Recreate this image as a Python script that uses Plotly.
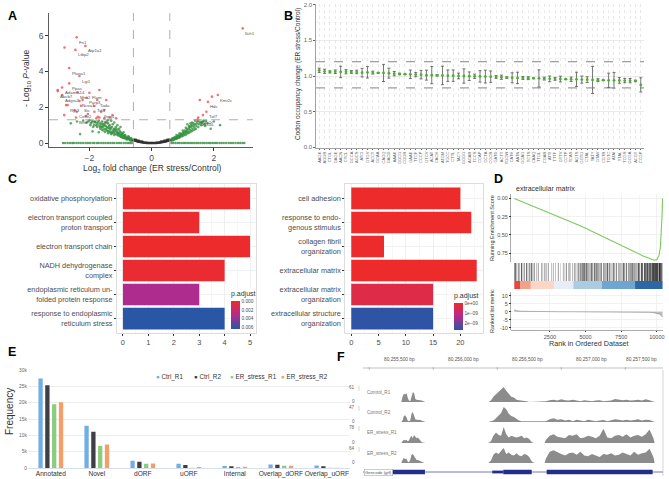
import plotly.graph_objects as go

W, H = 669, 479
FONT = "Liberation Sans, Arial, Helvetica, sans-serif"

# ================= Panel A : volcano =================
zero_x = [-2.85, -2.78, -2.7, -2.62, -2.55, -2.5, -2.42, -2.35, -2.28, -2.2, -2.12, -2.05, -1.98, -1.9,
          -1.84, -1.76, -1.7, -1.62, -1.55, -1.48, -1.4, -1.33, -1.26, -1.2, -1.12, -1.05, -0.98, -0.9,
          -0.83, -0.76, -0.7, -0.64, 0.64, 0.7, 0.77, 0.84, 0.9, 0.97, 1.04, 1.1, 1.17, 1.24, 1.3, 1.37,
          1.44, 1.5, 1.57, 1.64, 1.7, 1.77, 1.84, 1.9, 1.97, 2.04, 2.1, 2.18, 2.25, 2.32, 2.4, 2.48, 2.55,
          2.62, 2.7, 2.78, 2.85, 2.92, 2.98]
green_pts = [(-0.62, 0.18), (-0.65, 0.22), (-0.68, 0.15), (-0.7, 0.25), (-0.72, 0.2), (-0.75, 0.3), (-0.78, 0.22),
             (-0.8, 0.28), (-0.82, 0.35), (-0.85, 0.25), (-0.88, 0.32), (-0.9, 0.4), (-0.92, 0.3), (-0.95, 0.45),
             (-0.98, 0.35), (-1.0, 0.5), (-1.02, 0.38), (-1.05, 0.55), (-1.08, 0.42), (-1.1, 0.6), (-1.12, 0.48),
             (-1.15, 0.7), (-1.18, 0.52), (-1.2, 0.8), (-1.22, 0.58), (-1.25, 0.65), (-1.28, 0.9), (-1.3, 0.6),
             (-1.32, 0.75), (-1.35, 1.0), (-1.38, 0.68), (-1.4, 0.85), (-1.42, 1.1), (-1.45, 0.72), (-1.48, 0.95),
             (-1.5, 1.15), (-1.52, 0.8), (-1.55, 1.05), (-1.58, 0.88), (-1.6, 1.2), (-1.62, 0.92), (-1.65, 1.1),
             (-1.68, 0.98), (-1.7, 1.25), (-1.75, 1.05), (-1.8, 1.15), (-1.85, 1.0), (-1.9, 1.22), (-1.95, 1.1),
             (-2.0, 1.28), (-2.1, 1.15), (-2.2, 1.25), (-2.4, 1.2), (-2.6, 1.1), (-1.0, 0.62), (-1.1, 0.75),
             (-1.2, 0.45), (-1.3, 0.5), (-1.4, 0.55), (-1.25, 1.05), (-1.15, 0.9), (-0.95, 0.55), (-1.05, 0.8),
             (-1.35, 0.82), (-1.45, 1.2), (-1.55, 0.7), (-0.85, 0.45), (-0.75, 0.38), (-1.65, 0.8), (-1.75, 0.9),
             (-1.2, 1.15), (-1.3, 1.25), (-1.1, 1.0), (-0.9, 0.6), (-1.0, 0.9), (-1.5, 0.62), (-1.6, 0.75),
             (-1.4, 1.28), (-2.3, 0.5), (-1.9, 0.65), (-1.7, 0.6),
             (-0.64, 0.12), (-0.66, 0.28), (-0.7, 0.18), (-0.73, 0.33), (-0.77, 0.26), (-0.8, 0.2), (-0.83, 0.3),
             (-0.87, 0.42), (-0.9, 0.28), (-0.93, 0.5), (-0.96, 0.33), (-1.0, 0.4), (-1.03, 0.68), (-1.06, 0.48),
             (-1.09, 0.55), (-1.13, 0.62), (-1.16, 0.8), (-1.19, 0.68), (-1.23, 0.75), (-1.27, 0.55), (-1.31, 0.85),
             (-1.34, 0.6), (-1.37, 0.95), (-1.41, 0.65), (-1.44, 0.9), (-1.47, 0.78), (-1.51, 1.0), (-1.56, 0.95),
             (-1.61, 1.05), (-1.66, 0.9), (-1.72, 1.15), (-1.78, 0.98), (-1.83, 1.2), (-1.88, 0.9), (-1.97, 1.0),
             (-2.05, 1.2),
             (0.62, 0.18), (0.65, 0.22), (0.68, 0.16), (0.7, 0.26), (0.72, 0.2), (0.75, 0.3), (0.78, 0.24),
             (0.8, 0.32), (0.82, 0.26), (0.85, 0.38), (0.88, 0.3), (0.9, 0.42), (0.92, 0.34), (0.95, 0.48),
             (0.98, 0.38), (1.0, 0.52), (1.02, 0.42), (1.05, 0.6), (1.08, 0.45), (1.1, 0.65), (1.12, 0.5),
             (1.15, 0.72), (1.18, 0.55), (1.2, 0.8), (1.22, 0.6), (1.25, 0.88), (1.28, 0.65), (1.3, 0.95),
             (1.32, 0.7), (1.35, 1.0), (1.38, 0.75), (1.4, 1.05), (1.42, 0.8), (1.45, 1.1), (1.5, 0.9),
             (1.55, 1.15), (1.6, 1.0), (1.65, 1.2), (1.7, 1.05), (1.75, 1.25), (1.8, 1.1), (1.0, 0.7), (1.1, 0.85),
             (1.2, 0.95), (1.3, 1.15), (0.9, 0.55), (0.8, 0.45), (1.4, 1.25), (1.15, 1.05), (1.25, 1.1),
             (1.5, 1.25), (2.0, 1.2), (2.2, 1.0), (1.9, 0.8),
             (0.64, 0.13), (0.67, 0.27), (0.71, 0.2), (0.74, 0.34), (0.77, 0.22), (0.81, 0.36), (0.84, 0.28),
             (0.87, 0.44), (0.91, 0.36), (0.94, 0.52), (0.97, 0.42), (1.01, 0.6), (1.04, 0.5), (1.07, 0.7),
             (1.11, 0.58), (1.14, 0.8), (1.17, 0.62), (1.21, 0.9), (1.24, 0.72), (1.27, 1.0), (1.31, 0.8),
             (1.34, 1.1), (1.37, 0.88), (1.44, 0.95), (1.47, 1.2), (1.52, 1.05), (1.58, 1.18), (1.62, 1.1),
             (1.68, 1.25), (1.72, 0.95)]
grey_pts = [(-0.58, 0.16), (-0.55, 0.14), (-0.52, 0.13), (-0.5, 0.12), (-0.47, 0.1), (-0.45, 0.09), (-0.42, 0.08),
            (-0.4, 0.07), (-0.37, 0.06), (-0.35, 0.055), (-0.32, 0.045), (-0.3, 0.04), (-0.27, 0.03), (-0.25, 0.025),
            (-0.22, 0.02), (-0.2, 0.015), (-0.17, 0.012), (-0.15, 0.01), (-0.12, 0.006), (-0.1, 0.004),
            (-0.07, 0.002), (-0.05, 0.001), (-0.02, 0.0), (0.0, 0.0), (0.02, 0.0), (0.05, 0.001), (0.07, 0.002),
            (0.1, 0.004), (0.12, 0.006), (0.15, 0.01), (0.17, 0.012), (0.2, 0.015), (0.22, 0.02), (0.25, 0.025),
            (0.27, 0.03), (0.3, 0.04), (0.32, 0.045), (0.35, 0.055), (0.37, 0.06), (0.4, 0.07), (0.42, 0.08),
            (0.45, 0.09), (0.47, 0.1), (0.5, 0.12), (0.52, 0.13), (0.55, 0.14), (0.58, 0.16), (-0.5, 0.18),
            (-0.4, 0.12), (-0.3, 0.08), (0.3, 0.08), (0.4, 0.12), (0.5, 0.18), (-0.55, 0.2), (0.55, 0.2),
            (-0.45, 0.14), (0.45, 0.14), (-0.35, 0.09), (0.35, 0.09)]
red_pts = [(-2.80, 5.33), (-1.68, 2.96), (-1.73, 1.47), (-1.52, 1.84), (-1.35, 1.43), (-3.02, 2.96), (-2.81, 1.56),
           (-1.46, 2.40), (-1.84, 1.75), (-2.05, 1.62), (-1.26, 1.56), (-1.14, 1.38), (-2.22, 2.40), (-2.48, 1.84),
           (-2.75, 2.12), (-1.52, 1.38), (-1.78, 1.38), (1.94, 2.59), (1.55, 2.40), (1.65, 1.56)]
label_genes = ["Fn1", "Atp1a1", "Ltbp2", "Plana1", "Lgi1", "Ppas", "Adamts14", "Abcb7", "Adgra2", "Mns2", "Flam",
               "Parp3", "Tada", "Ncoa1", "Ryr3", "Sic", "Tcf3", "Colte2", "Ihng1", "Brnn", "Ggt5", "Dcx",
               "Ilch1", "Kmt2c", "Hdc", "Taf7", "Pdk2s", "Clec4a"]
label_pts = [(-2.41, 5.90), (-2.13, 5.42), (-2.45, 5.20), (-2.65, 4.19), (-2.32, 3.74), (-2.65, 3.33), (-2.88, 3.10),
             (-3.02, 2.90), (-2.88, 2.68), (-2.38, 2.83), (-2.0, 2.81), (-2.09, 2.53), (-1.75, 2.40), (-2.32, 2.35),
             (-2.70, 2.12), (-2.27, 2.08), (-1.84, 2.07), (-2.41, 1.75), (-1.62, 1.75), (-2.43, 1.43), (-2.11, 1.51),
             (-1.68, 1.43), (2.93, 6.40), (2.13, 2.68), (1.81, 2.30), (1.76, 1.75), (1.50, 1.43), (1.48, 1.32)]
fc_cut = 0.585   # log2(1.5)
p_cut = 1.301    # -log10(0.05)

# ================= Panel B : codon occupancy =================
codons = ["AAGK", "AGGR", "CTGL", "GAGE", "AACN", "CTCL", "GCCA", "AGCS", "ATCI", "GTGV", "ACCT", "GCAA", "CAGQ",
          "GACD", "AAAK", "GGCG", "CGGR", "GAAE", "TTCF", "CCCP", "GTCV", "ACAT", "CACH", "ATGM", "TGCC", "CTTL",
          "TACY", "GGGG", "AGAR", "TCCS", "CCAP", "GCTA", "CGCR", "GATD", "ACTT", "TGGW", "CATH", "AATN", "GGAG",
          "TCTS", "CAAQ", "TTGL", "CGAR", "ATTI", "TTTF", "GTTV", "CCTP", "TCAS", "AGTS", "GGTG", "CTAL", "TATY",
          "GTAV", "CGTR", "TGTC", "ATAI", "TTAL", "TCGS", "GCGA", "ACGT", "CCGP"]
codon_mean = [1.08, 1.066, 1.057, 1.06, 1.057, 1.06, 1.057, 1.057, 1.047, 1.052, 1.047, 1.043, 1.043, 1.04, 1.033,
              1.028, 1.025, 1.024, 1.02, 1.019, 1.012, 1.012, 1.01, 1.008, 1.005, 1.005, 1.0, 1.0, 0.997, 0.996,
              0.995, 0.992, 0.991, 0.987, 0.983, 0.978, 0.975, 0.973, 0.972, 0.969, 0.968, 0.967, 0.963, 0.96,
              0.959, 0.958, 0.955, 0.954, 0.953, 0.95, 0.949, 0.945, 0.942, 0.941, 0.94, 0.94, 0.938, 0.936, 0.935,
              0.931, 0.875]
codon_err = [0.03, 0.03, 0.015, 0.025, 0.08, 0.03, 0.02, 0.025, 0.06, 0.08, 0.02, 0.005, 0.12, 0.07, 0.03, 0.01,
             0.005, 0.06, 0.03, 0.06, 0.07, 0.12, 0.01, 0.13, 0.08, 0.08, 0.04, 0.10, 0.06, 0.03, 0.08, 0.09, 0.08,
             0.02, 0.03, 0.01, 0.07, 0.08, 0.02, 0.02, 0.005, 0.12, 0.02, 0.04, 0.02, 0.04, 0.005, 0.03, 0.10, 0.05,
             0.04, 0.19, 0.02, 0.005, 0.10, 0.11, 0.04, 0.03, 0.03, 0.01, 0.10]
b_upper = 1.2
b_lower = 0.833

# ================= Panel C : GO enrichment =================
c1_terms = ["oxidative phosphorylation", "electron transport coupled<br>proton transport", "electron transport chain",
            "NADH dehydrogenase<br>complex", "endoplasmic reticulum un-<br>folded protein response",
            "response to endoplasmic<br>reticulum stress"]
c1_counts = [5, 3, 5, 4, 3, 4]
c1_padj = [0.00005, 0.0001, 0.00008, 0.0002, 0.0033, 0.0063]
c2_terms = ["cell adhesion", "response to endo-<br>genous stimulus", "collagen fibril<br>organization",
            "extracellular matrix", "extracellular matrix<br>organization", "extracellular structure<br>organization"]
c2_counts = [20, 22, 6, 23, 15, 15]
c2_padj = [1e-12, 5e-12, 2e-11, 1e-13, 4e-10, 2.65e-9]

# ================= Panel D : GSEA =================
es_rank = [0, 500, 1000, 1500, 2000, 2500, 3000, 3500, 4000, 4500, 5000, 5500, 6000, 6500, 7000, 7500, 8000, 8500,
           9000, 9300, 9600, 9800, 10000, 10150, 10250, 10320, 10360, 10400]
es_value = [0, -0.04, -0.085, -0.12, -0.155, -0.195, -0.235, -0.28, -0.32, -0.365, -0.41, -0.455, -0.50, -0.55,
            -0.595, -0.64, -0.69, -0.735, -0.785, -0.81, -0.835, -0.845, -0.84, -0.78, -0.66, -0.45, -0.25, 0.0]
hit_rank = [20, 89, 150, 276, 380, 510, 600, 697, 861, 950, 1048, 1120, 1212, 1300, 1399, 1550, 1680, 1914, 2000,
            2148, 2250, 2382, 2600, 2733, 2900, 3084, 3250, 3435, 3550, 3669, 3800, 3903, 4100, 4254, 4400, 4488,
            4600, 4675, 4769, 4850, 4909, 5000, 5073, 5150, 5237, 5330, 5424, 5500, 5611, 5700, 5775, 5850, 5939,
            6050, 6126, 6250, 6360, 6450, 6547, 6650, 6711, 6850, 6945, 7050, 7179, 7300, 7413, 7550, 7647, 7750,
            7881, 8000, 8115, 8200, 8279, 8380, 8466, 8600, 8700, 8800, 8934, 9000, 9121, 9215, 9300, 9355, 9449,
            9520, 9589, 9683, 9750, 9823, 9917, 9980, 10057, 10151, 10200, 10268, 10350]
hit_alpha = [0.5, 0.7, 0.3, 0.6, 0.4, 0.8, 0.3, 0.6, 0.7, 0.3,
             0.6, 0.3, 0.7, 0.4, 0.6, 0.3, 0.5, 0.4, 0.3, 0.6,
             0.3, 0.5, 0.3, 0.4, 0.3, 0.5, 0.2, 0.4, 0.3, 0.5,
             0.3, 0.6, 0.4, 0.7, 0.3, 0.6, 0.4, 0.8, 0.7, 0.5,
             0.8, 0.4, 0.7, 0.5, 0.6, 0.4, 0.7, 0.5, 0.8, 0.4,
             0.6, 0.5, 0.7, 0.4, 0.6, 0.5, 0.7, 0.4, 0.8, 0.5,
             0.6, 0.4, 0.7, 0.5, 0.6, 0.4, 0.7, 0.5, 0.8, 0.6,
             0.7, 0.5, 0.8, 0.6, 0.7, 0.5, 0.8, 0.6, 0.9, 0.7,
             0.9, 0.7, 0.9, 0.8, 0.9, 0.8, 1.0, 0.9, 1.0, 0.9,
             1.0, 0.9, 1.0, 0.9, 1.0, 0.9, 1.0, 0.9, 1.0]
stripe_edges = [0, 400, 1160, 2800, 4140, 6130, 8470, 10400]
stripe_colors = ["#e4473b", "#f2a18b", "#fbd6c7", "#e6edf6", "#abcbe3", "#6ea6d1", "#2e67a6"]
metric_rank = [0, 200, 500, 1000, 2000, 3000, 4000, 5000, 6000, 7000, 8000, 9000, 9500, 9800, 10000, 10200, 10300,
               10400]
metric_value = [1.2, 0.6, 0.35, 0.2, 0.1, 0.05, 0.02, 0.0, -0.02, -0.05, -0.1, -0.2, -0.35, -0.6, -0.9, -1.5, -2.3,
                -3.5]
rank_ticks = [2500, 5000, 7500, 10000]

# ================= Panel E : ORF types =================
orf_types = ["Annotated", "Novel", "dORF", "uORF", "Internal", "Overlap_dORF", "Overlap_uORF"]
samples = ["Ctrl_R1", "Ctrl_R2", "ER_stress_R1", "ER_stress_R2"]
ctrl_r1 = [27400, 12900, 2200, 1300, 600, 1100, 800]
ctrl_r2 = [25300, 11100, 1900, 900, 500, 1000, 500]
er_r1 = [19500, 6700, 1300, 100, 300, 700, 100]
er_r2 = [20100, 7200, 1400, 300, 400, 700, 100]

# ================= Panel F : coverage tracks =================
region_start = 80255000
view_start, view_end = 80255211, 80257555
ruler_ticks = [80255500, 80256000, 80256500, 80257000, 80257500]
cov_offsets = [460, 470, 480, 490, 500, 510, 520, 530, 540, 550, 560, 570, 580, 590, 600, 610, 620, 630, 640, 650,
               660, 670, 680, 690, 700,
               1190, 1210, 1230, 1250, 1270, 1290, 1310, 1330, 1350, 1370, 1390, 1410, 1430, 1450, 1470, 1490, 1510,
               1530, 1550, 1570, 1590, 1610, 1630,
               1640, 1670, 1700, 1730, 1760, 1790, 1820, 1850, 1880, 1910, 1940, 1970, 2000, 2030, 2060, 2090, 2120,
               2150, 2180, 2210, 2240, 2270, 2300, 2330, 2360, 2390, 2420, 2450, 2480, 2490]
track_names = ["Control_R1", "Control_R2", "ER_stress_R1", "ER_stress_R2"]
track_max = [61, 47, 78, 64]
cov_ctrl_r1 = [0, 0, 0, 3, 2, 0, 21, 34, 30, 37, 18, 6, 3, 27, 40, 37, 12, 9, 9, 7, 6, 6, 3, 2, 0,
               0, 6, 21, 31, 40, 52, 61, 46, 31, 21, 18, 9, 7, 6, 6, 3, 0, 0, 0, 0, 0, 0, 0,
               3, 7, 9, 6, 11, 7, 6, 9, 6, 3, 7, 6, 3, 6, 7, 3, 5, 6, 12, 9, 7, 9, 6, 7, 9, 6, 11, 7, 3, 0]
cov_ctrl_r2 = [0, 0, 0, 0, 0, 0, 5, 19, 21, 16, 5, 2, 5, 26, 31, 16, 9, 7, 7, 5, 6, 4, 2, 0, 0,
               0, 2, 5, 12, 19, 28, 47, 40, 26, 19, 16, 9, 5, 2, 2, 1, 0, 0, 0, 0, 0, 0, 0,
               2, 9, 12, 7, 9, 5, 7, 2, 7, 5, 2, 7, 5, 2, 5, 6, 2, 5, 9, 7, 5, 7, 5, 6, 9, 5, 7, 6, 2, 0]
cov_er_r1 = [0, 0, 0, 0, 0, 0, 8, 16, 12, 16, 8, 12, 27, 35, 23, 39, 31, 23, 27, 20, 8, 4, 2, 0, 0,
             0, 8, 35, 51, 39, 35, 78, 43, 27, 35, 31, 27, 31, 35, 23, 27, 20, 4, 0, 0, 0, 0, 0,
             16, 35, 43, 31, 27, 23, 39, 35, 43, 23, 27, 35, 31, 23, 35, 70, 27, 23, 35, 39, 31, 43, 27, 35, 39, 31,
             43, 66, 23, 0]
cov_er_r2 = [0, 0, 0, 0, 0, 0, 13, 22, 16, 19, 6, 3, 13, 35, 38, 29, 16, 13, 13, 10, 8, 5, 3, 0, 0,
             0, 10, 35, 45, 38, 51, 64, 38, 45, 35, 32, 42, 32, 29, 38, 35, 26, 6, 0, 0, 0, 0, 0,
             19, 48, 54, 45, 38, 32, 42, 45, 35, 48, 32, 29, 38, 32, 26, 38, 35, 42, 32, 35, 45, 38, 32, 48, 35, 42,
             45, 61, 26, 0]
gene_span = [80255200, 80257560]
exon_starts = [80255435, 80256307, 80256646]
exon_ends = [80255695, 80256529, 80257474]
utr_starts = [80256221]
utr_ends = [80256307]

# ======================================================================
GREEN = "#2f8f3a"
RED = "#ee5a5f"
DARK = "#333333"
E_COLORS = ["#72aee6", "#3e3e44", "#8ccc7e", "#f59e6a"]
LBL = "#4d4d4d"


def dx(a, b):
    return [a / W, b / W]


def dy(top, bottom):
    return [1 - bottom / H, 1 - top / H]


def ann(text, x, y, size=8, xanchor="center", yanchor="middle", angle=0, color="#333", **kw):
    return dict(text=text, x=x / W, y=1 - y / H, xref="paper", yref="paper", showarrow=False,
                font=dict(size=size, color=color, family=FONT), xanchor=xanchor, yanchor=yanchor,
                textangle=angle, **kw)


fig = go.Figure()
annotations = []
shapes = []

# ---------- A ----------
fig.add_trace(go.Scatter(x=zero_x, y=[0] * len(zero_x), mode="markers",
                         marker=dict(size=2.5, color=GREEN, opacity=0.8), xaxis="x", yaxis="y"))
fig.add_trace(go.Scatter(x=[p[0] for p in green_pts], y=[p[1] for p in green_pts], mode="markers",
                         marker=dict(size=2.6, color=GREEN, opacity=0.75), xaxis="x", yaxis="y"))
fig.add_trace(go.Scatter(x=[p[0] for p in grey_pts], y=[p[1] for p in grey_pts], mode="markers",
                         marker=dict(size=2.6, color=DARK, opacity=0.85), xaxis="x", yaxis="y"))
fig.add_trace(go.Scatter(x=[p[0] for p in red_pts] + [p[0] for p in label_pts],
                         y=[p[1] for p in red_pts] + [p[1] for p in label_pts], mode="markers",
                         marker=dict(size=2.6, color=RED, opacity=0.85), xaxis="x", yaxis="y"))
for g, (lx, ly) in zip(label_genes, label_pts):
    annotations.append(dict(text=g, x=lx, y=ly, xref="x", yref="y", showarrow=False, xanchor="left",
                            yanchor="top", xshift=0.5, yshift=-0.5, font=dict(size=4.3, color="#555", family=FONT)))
for v in (-fc_cut, fc_cut):
    shapes.append(dict(type="line", xref="x", yref="y domain", x0=v, x1=v, y0=0, y1=1,
                       line=dict(color="#9a9a9a", width=0.8, dash="dash")))
shapes.append(dict(type="line", xref="x domain", yref="y", x0=0, x1=1, y0=p_cut, y1=p_cut,
                   line=dict(color="#9a9a9a", width=0.8, dash="dash")))
annotations.append(ann("- Log<sub>10</sub> <i>P</i>-value", 26, 78, size=8.5, angle=-90))
annotations.append(ann("Log<sub>2</sub> fold change (ER stress/Control)", 152, 168, size=8.5))

# ---------- B ----------
fig.add_trace(go.Scatter(x=codons, y=codon_mean, mode="markers",
                         marker=dict(size=2.8, color="#4cae2e"),
                         error_y=dict(type="data", array=codon_err, color="#555", thickness=0.8, width=1.5),
                         xaxis="x2", yaxis="y2"))
for v in (b_upper, b_lower):
    shapes.append(dict(type="line", xref="x2 domain", yref="y2", x0=0, x1=1, y0=v, y1=v,
                       line=dict(color="#666", width=0.8, dash="dash")))
annotations.append(ann("Codon occupancy change (ER stress/Control)", 298, 74, size=6.5, angle=-90))

# ---------- C ----------
fig.add_trace(go.Bar(x=c1_counts, y=c1_terms, orientation="h", width=0.9,
                     marker=dict(color=[-p for p in c1_padj], coloraxis="coloraxis", line=dict(width=0)),
                     xaxis="x3", yaxis="y3"))
fig.add_trace(go.Bar(x=c2_counts, y=c2_terms, orientation="h", width=0.9,
                     marker=dict(color=[-p for p in c2_padj], coloraxis="coloraxis2", line=dict(width=0)),
                     xaxis="x4", yaxis="y4"))

# ---------- D ----------
fig.add_trace(go.Scatter(x=es_rank, y=es_value, mode="lines", line=dict(color="#7cc95c", width=1.1),
                         xaxis="x5", yaxis="y5"))
fig.add_trace(go.Bar(x=hit_rank, y=[1] * len(hit_rank), base=0, width=55,
                     marker=dict(color="black", opacity=hit_alpha, line=dict(width=0)),
                     xaxis="x6", yaxis="y6"))
fig.add_trace(go.Bar(x=[(a + b) / 2 for a, b in zip(stripe_edges[:-1], stripe_edges[1:])],
                     y=[1] * len(stripe_colors), base=0,
                     width=[b - a for a, b in zip(stripe_edges[:-1], stripe_edges[1:])],
                     marker=dict(color=stripe_colors, line=dict(width=0)), xaxis="x7", yaxis="y7"))
fig.add_trace(go.Scatter(x=metric_rank, y=metric_value, mode="lines", fill="tozeroy",
                         fillcolor="#bdbdbd", line=dict(color="#8a8a8a", width=0.6), xaxis="x8", yaxis="y8"))
annotations.append(ann("extracellular matrix", 514, 189, size=7, xanchor="left"))
annotations.append(ann("Running Enrichment Score", 492, 228, size=5.5, angle=-90))
annotations.append(ann("Ranked list metric", 492, 311, size=5.5, angle=-90))
annotations.append(ann("Rank in Ordered Dataset", 589, 343, size=7.2))

# ---------- E ----------
e_vals = [ctrl_r1, ctrl_r2, er_r1, er_r2]
offsets = [-0.269, -0.121, 0.027, 0.175]
for name, vals, col, off in zip(samples, e_vals, E_COLORS, offsets):
    fig.add_trace(go.Bar(x=orf_types, y=vals, name=name, offset=off, width=0.0935,
                         marker=dict(color=col, line=dict(width=0)), xaxis="x9", yaxis="y9"))
leg_x = [154, 192, 228, 279]
for name, col, lx in zip(samples, E_COLORS, leg_x):
    annotations.append(ann(f"<span style='color:{col}'>●</span> {name}", lx, 377, size=6.3, xanchor="left"))
annotations.append(ann("Frequency", 9, 412, size=10, angle=-90))

# ---------- F ----------
track_axes = ["y10", "y11", "y12", "y13"]
track_tops = [387, 407, 427, 448]
track_bottoms = [402, 422, 443, 463]
cov_x = [region_start + o for o in cov_offsets]
for name, mx, cov, ya, top, bot in zip(track_names, track_max, [cov_ctrl_r1, cov_ctrl_r2, cov_er_r1, cov_er_r2],
                                       track_axes, track_tops, track_bottoms):
    fig.add_trace(go.Scatter(x=cov_x, y=cov, mode="lines", fill="tozeroy", fillcolor="#8c8c8c",
                             line=dict(width=0, color="rgba(0,0,0,0)"), xaxis="x10", yaxis=ya))
    annotations.append(ann(name, 365, top + 0.5, size=4.6, xanchor="left", yanchor="top", color="#777"))
    annotations.append(ann(str(mx), 357, top, size=4.6, xanchor="right", color="#666"))
    annotations.append(ann("0", 357, bot - 1, size=4.6, xanchor="right", color="#666"))
    shapes.append(dict(type="line", xref="paper", yref="paper", x0=359 / W, x1=359 / W,
                       y0=1 - (top + 4) / H, y1=1 - (top - 1) / H, line=dict(color="#aaa", width=0.5)))
# gene model
fig.add_trace(go.Scatter(x=gene_span, y=[0, 0], mode="lines", line=dict(color="#4a56b0", width=0.8),
                         xaxis="x10", yaxis="y14"))
for s, e in zip(utr_starts, utr_ends):
    fig.add_trace(go.Scatter(x=[s, e], y=[0, 0], mode="lines", line=dict(color="#222f8a", width=2.8),
                             xaxis="x10", yaxis="y14"))
for s, e in zip(exon_starts, exon_ends):
    fig.add_trace(go.Scatter(x=[s, e], y=[0, 0], mode="lines", line=dict(color="#222f8a", width=4.5),
                             xaxis="x10", yaxis="y14"))
annotations.append(ann("Gencode (gtf)", 364, 472, size=4.3, xanchor="left", color="#555",
                       bgcolor="white", bordercolor="#999", borderwidth=0.5, borderpad=0.5))
# ruler
shapes.append(dict(type="line", xref="paper", yref="paper", x0=363 / W, x1=663 / W, y0=1 - 368 / H, y1=1 - 368 / H,
                   line=dict(color="#999", width=0.6)))
shapes.append(dict(type="line", xref="paper", yref="paper", x0=663 / W, x1=663 / W, y0=1 - 476 / H, y1=1 - 370 / H,
                   line=dict(color="#bbb", width=0.6)))
for t in ruler_ticks:
    label = f"{t:,} bp"
    if t > view_end - 200:
        annotations.append(dict(text=label, x=view_end, y=1 - 364 / H, xref="x10", yref="paper", showarrow=False,
                                xanchor="right", xshift=-4, font=dict(size=4.8, color="#555", family=FONT)))
    else:
        annotations.append(dict(text=label, x=t, y=1 - 364 / H, xref="x10", yref="paper", showarrow=False,
                                xanchor="center", font=dict(size=4.8, color="#555", family=FONT)))
    shapes.append(dict(type="line", xref="x10", yref="paper", x0=t - 240, x1=t - 240, y0=1 - 370 / H,
                       y1=1 - 367 / H, line=dict(color="#999", width=0.6)))

# panel letters
for letter, lx, ly in [("A", 6, 16), ("B", 282, 16), ("C", 6, 179), ("D", 492, 179), ("E", 6, 352),
                       ("F", 335, 357)]:
    annotations.append(ann(f"<b>{letter}</b>", lx, ly, size=12.5, xanchor="left", color="black"))

# ======================= layout =======================
tickf = dict(size=8.5, color=LBL, family=FONT)
nogrid = dict(showgrid=False, zeroline=False)
hidden = dict(visible=False, showgrid=False, zeroline=False)

layout = dict(
    width=W, height=H, margin=dict(l=0, r=0, t=0, b=0), autosize=False, template="none",
    paper_bgcolor="white", plot_bgcolor="white", showlegend=False, barmode="overlay",
    font=dict(family=FONT, size=8, color="#333"),
    # A
    xaxis=dict(domain=dx(49, 253), anchor="y", range=[-3.3, 3.26], tickvals=[-2, 0, 2],
               ticktext=["\u22122", "0", "2"], ticks="outside", ticklen=3, tickcolor="#333", showline=True,
               linecolor="#333", linewidth=0.8, tickfont=tickf, **nogrid),
    yaxis=dict(domain=dy(13, 147), anchor="x", range=[-0.22, 7.26], tickvals=[0, 2, 4, 6], ticks="outside",
               ticklen=3, tickcolor="#333", showline=True, linecolor="#333", linewidth=0.8, tickfont=tickf,
               **nogrid),
    # B
    xaxis2=dict(domain=dx(316, 644), anchor="y2", type="category", range=[-0.6, 60.6], tickmode="array",
                tickvals=codons, ticktext=codons, tickangle=-90, tickfont=dict(size=4, color="#666", family=FONT),
                ticks="outside", ticklen=1.5, tickcolor="#666", showgrid=True, gridcolor="#d8d8d8", griddash="dot",
                gridwidth=0.6, showline=True, linecolor="#666", linewidth=0.6, zeroline=False),
    yaxis2=dict(domain=dy(4, 148), anchor="x2", range=[-0.01, 2.01], tickvals=[0, 0.5, 1.0, 1.5, 2.0],
                tickformat=".1f", tickfont=dict(size=6, color="#666", family=FONT), ticks="outside", ticklen=2,
                tickcolor="#666", showgrid=True, gridcolor="#e3e3e3", gridwidth=0.7,
                minor=dict(tickvals=[0.25, 0.75, 1.25, 1.75], showgrid=True, gridcolor="#ededed", griddash="dot"),
                showline=True, linecolor="#666", linewidth=0.6, zeroline=False),
    # C left
    xaxis3=dict(domain=dx(116.6, 256.4), anchor="y3", range=[-0.25, 5.25], tickvals=[0, 1, 2, 3, 4, 5],
                ticks="outside", ticklen=2, tickcolor="#333", tickfont=dict(size=7.5, color=LBL, family=FONT),
                showgrid=True, gridcolor="#ebebeb", gridwidth=0.7,
                minor=dict(dtick=0.5, showgrid=True, gridcolor="#f4f4f4"),
                showline=True, mirror=True, linecolor="#cfcfcf", linewidth=0.7, zeroline=False),
    yaxis3=dict(domain=dy(184, 333), anchor="x3", type="category", range=[5.6, -0.6], ticks="outside",
                ticklen=2, tickcolor="#333", tickfont=dict(size=7.3, color=LBL, family=FONT),
                showgrid=True, gridcolor="#ebebeb", gridwidth=0.7, showline=True, mirror=True,
                linecolor="#cfcfcf", linewidth=0.7, zeroline=False),
    # C right
    xaxis4=dict(domain=dx(345, 483), anchor="y4", range=[-1.15, 24.15], tickvals=[0, 5, 10, 15, 20],
                ticks="outside", ticklen=2, tickcolor="#333", tickfont=dict(size=7.5, color=LBL, family=FONT),
                showgrid=True, gridcolor="#ebebeb", gridwidth=0.7,
                minor=dict(dtick=2.5, showgrid=True, gridcolor="#f4f4f4"),
                showline=True, mirror=True, linecolor="#cfcfcf", linewidth=0.7, zeroline=False),
    yaxis4=dict(domain=dy(184, 333), anchor="x4", type="category", range=[5.6, -0.6], ticks="outside",
                ticklen=2, tickcolor="#333", tickfont=dict(size=7.3, color=LBL, family=FONT),
                showgrid=True, gridcolor="#ebebeb", gridwidth=0.7, showline=True, mirror=True,
                linecolor="#cfcfcf", linewidth=0.7, zeroline=False),
    coloraxis=dict(cmin=-0.0063, cmax=0, colorscale=[[0, "#2a56a6"], [0.5, "#b42a8c"], [1, "#ee2b2b"]],
                   colorbar=dict(x=231 / W, xanchor="left", y=1 - 329 / H, yanchor="bottom", len=41,
                                 lenmode="pixels", thickness=9, thicknessmode="pixels", xpad=0, ypad=0,
                                 outlinewidth=0, ticks="", bgcolor="white",
                                 tickvals=[0, -0.002, -0.004, -0.006],
                                 ticktext=["0.000", "0.002", "0.004", "0.006"],
                                 tickfont=dict(size=4.8, color=LBL, family=FONT),
                                 title=dict(text="p.adjust", side="top",
                                            font=dict(size=7, color="#333", family=FONT)))),
    coloraxis2=dict(cmin=-2.7e-9, cmax=0, colorscale=[[0, "#2a56a6"], [0.5, "#b42a8c"], [1, "#ee2b2b"]],
                    colorbar=dict(x=454 / W, xanchor="left", y=1 - 330 / H, yanchor="bottom", len=40,
                                  lenmode="pixels", thickness=9, thicknessmode="pixels", xpad=0, ypad=0,
                                  outlinewidth=0, ticks="", bgcolor="white",
                                  tickvals=[0, -1e-9, -2e-9], ticktext=["0e+00", "1e\u221209", "2e\u221209"],
                                  tickfont=dict(size=4.8, color=LBL, family=FONT),
                                  title=dict(text="p.adjust", side="top",
                                             font=dict(size=7, color="#333", family=FONT)))),
    # D
    xaxis5=dict(domain=dx(511, 663), anchor="y5", range=[-230, 10430], tickvals=rank_ticks,
                showticklabels=False, ticks="", showgrid=True, gridcolor="#ebebeb", gridwidth=0.7,
                minor=dict(tickvals=[1250, 3750, 6250, 8750], showgrid=True, gridcolor="#f4f4f4"),
                zeroline=False),
    yaxis5=dict(domain=dy(194, 262), anchor="x5", range=[-0.87, 0.06], tickvals=[0, -0.25, -0.5, -0.75],
                ticktext=["0.00", "0.25", "0.50", "0.75"], tickfont=dict(size=5.5, color=LBL, family=FONT),
                ticks="outside", ticklen=1.5, tickcolor="#333", showgrid=True, gridcolor="#ebebeb",
                gridwidth=0.7, zeroline=False, showline=True, linecolor="#555", linewidth=0.5),
    xaxis6=dict(domain=dx(511, 663), anchor="y6", range=[-230, 10430], **hidden),
    yaxis6=dict(domain=dy(263, 281), anchor="x6", range=[0, 1], **hidden),
    xaxis7=dict(domain=dx(511, 663), anchor="y7", range=[-230, 10430], **hidden),
    yaxis7=dict(domain=dy(281, 289), anchor="x7", range=[0, 1], **hidden),
    xaxis8=dict(domain=dx(511, 663), anchor="y8", range=[-230, 10430], tickvals=rank_ticks,
                ticktext=[str(t) for t in rank_ticks],
                tickfont=dict(size=5.5, color=LBL, family=FONT), ticks="outside", ticklen=1.5,
                tickcolor="#333", showgrid=True, gridcolor="#ebebeb", gridwidth=0.7, zeroline=False,
                showline=True, linecolor="#555", linewidth=0.5),
    yaxis8=dict(domain=dy(292, 330), anchor="x8", range=[-11.5, 12.5], tickvals=[10, 5, 0, -5, -10],
                ticktext=["10", "5", "0", "-5", "-10"],
                tickfont=dict(size=5.5, color=LBL, family=FONT), ticks="outside", ticklen=1.5,
                tickcolor="#333", showgrid=True, gridcolor="#ebebeb", gridwidth=0.7, zeroline=False,
                showline=True, linecolor="#555", linewidth=0.5),
    # E
    xaxis9=dict(domain=dx(27.8, 349.8), anchor="y9", type="category", range=[-0.5, 6.5], tickangle=0,
                tickfont=dict(size=6.6, color="#333", family=FONT), ticks="", showline=True,
                linecolor="#ccd6eb", linewidth=0.8, ticklabelstandoff=-1, **nogrid),
    yaxis9=dict(domain=dy(370, 468), anchor="x9", range=[0, 30000],
                tickvals=[0, 5000, 10000, 15000, 20000, 25000, 30000],
                ticktext=["0", "5k", "10k", "15k", "20k", "25k", "30k"],
                tickfont=dict(size=4.8, color="#666", family=FONT), ticks="", showgrid=True,
                gridcolor="#e6e6e6", gridwidth=0.7, zeroline=False, showline=False),
    # F
    xaxis10=dict(domain=dx(363, 663), anchor="y10", range=[view_start, view_end], **hidden),
    yaxis10=dict(domain=dy(387, 402), anchor="x10", range=[0, track_max[0]], **hidden),
    yaxis11=dict(domain=dy(407, 422), anchor="x10", range=[0, track_max[1]], **hidden),
    yaxis12=dict(domain=dy(427, 443), anchor="x10", range=[0, track_max[2]], **hidden),
    yaxis13=dict(domain=dy(448, 463), anchor="x10", range=[0, track_max[3]], **hidden),
    yaxis14=dict(domain=dy(467, 477), anchor="x10", range=[-1, 1], **hidden),
    annotations=annotations,
    shapes=shapes,
)
fig.update_layout(**layout)
fig.write_html("out.html", config={"displayModeBar": False, "staticPlot": True},
               post_script="document.body.style.margin='0';document.body.style.padding='0';"
                           "document.body.style.overflow='hidden';")
